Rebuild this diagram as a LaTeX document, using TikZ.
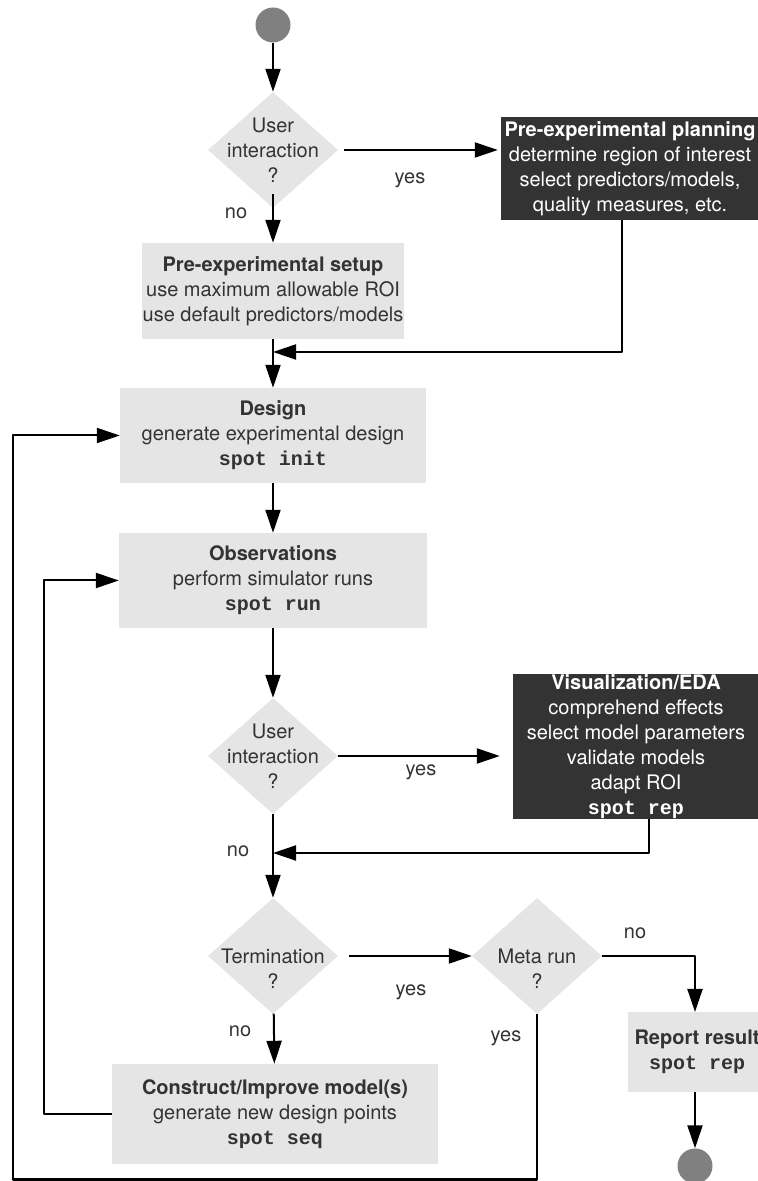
\documentclass[tikz,border=0pt]{standalone}
\usepackage{fontspec}
\setmainfont{TeX Gyre Heros}
\setmonofont{Liberation Mono}
\usetikzlibrary{arrows.meta}
\usetikzlibrary{shapes.geometric}
\definecolor{boxfill}{HTML}{E5E5E5}
\definecolor{darkfill}{HTML}{333333}
\definecolor{dotfill}{HTML}{808080}
\definecolor{inktext}{HTML}{333333}
\newcommand{\spotcmd}[1]{\textbf{\texttt{#1}}}

\begin{document}
\begin{tikzpicture}[>={Triangle[length=23bp,width=15bp]},line join=bevel,
  every node/.style={font=\fontsize{20bp}{25bp}\selectfont},
  lightbox/.style={rectangle,fill=boxfill,text=inktext,align=center,inner sep=0pt},
  darkbox/.style={rectangle,fill=darkfill,text=white,align=center,inner sep=0pt},
  query/.style={diamond,fill=boxfill,inner sep=0pt,minimum width=130bp,minimum height=116bp},
  qtext/.style={text=inktext,align=center},
  terminal/.style={circle,fill=dotfill,inner sep=0pt,minimum size=35bp},
  lbl/.style={text=inktext,inner sep=0pt},
  flow/.style={black,line width=2bp,->},
]
%%
\useasboundingbox (0bp,0bp) rectangle (758bp,1181bp);
\clip (0bp,0bp) rectangle (758bp,1181bp);
\node (node_start) at (273bp,1156bp) [terminal] {};
  \node (node_ui1) at (273bp,1031bp) [query,label={[qtext]center:User\\interaction\\?}] {};
  \node (node_plan) at (630bp,1012.5bp) [darkbox,minimum width=258bp,minimum height=103bp] {\textbf{Pre-experimental planning}\\determine region of interest\\select predictors/models,\\quality measures, etc.};
  \node (node_setup) at (273bp,890bp) [lightbox,minimum width=262bp,minimum height=96bp] {\textbf{Pre-experimental setup}\\use maximum allowable ROI\\use default predictors/models};
  \node (node_design) at (273bp,745.5bp) [lightbox,minimum width=306bp,minimum height=95bp] {\textbf{Design}\\generate experimental design\\\spotcmd{spot init}};
  \node (node_obs) at (273bp,600.5bp) [lightbox,minimum width=308bp,minimum height=95bp] {\textbf{Observations}\\perform simulator runs\\\spotcmd{spot run}};
  \node (node_ui2) at (273bp,425bp) [query,label={[qtext]center:User\\interaction\\?}] {};
  \node (node_viz) at (636bp,434.5bp) [darkbox,minimum width=246bp,minimum height=145bp] {\textbf{Visualization/EDA}\\comprehend effects\\select model parameters\\validate models\\adapt ROI\\\spotcmd{spot rep}};
  \node (node_term) at (273bp,225bp) [query,label={[qtext,yshift=-12.5bp]center:Termination\\?}] {};
  \node (node_meta) at (537bp,225bp) [query,label={[qtext,yshift=-12.5bp]center:Meta run\\?}] {};
  \node (node_report) at (697bp,129bp) [lightbox,minimum width=138bp,minimum height=80bp] {\textbf{Report result}\\\spotcmd{spot rep}};
  \node (node_construct) at (275bp,67bp) [lightbox,minimum width=326bp,minimum height=100bp] {\textbf{Construct/Improve model(s)}\\generate new design points\\\spotcmd{spot seq}};
  \node (node_end) at (695bp,15bp) [terminal] {};
  \node (node_yes1) at (410bp,1001bp) [lbl] {yes};
  \node (node_no1) at (236bp,968bp) [lbl] {no};
  \node (node_yes2) at (421bp,409bp) [lbl] {yes};
  \node (node_no2) at (238bp,330bp) [lbl] {no};
  \node (node_yes3) at (411bp,189bp) [lbl] {yes};
  \node (node_no3) at (240bp,150bp) [lbl] {no};
  \node (node_no4) at (635bp,248bp) [lbl] {no};
  \node (node_yes4) at (506bp,143bp) [lbl] {yes};
  \coordinate (join_plan) at (273bp,829bp);
  \coordinate (join_viz) at (273bp,328bp);
  \coordinate (loop_outer) at (13bp,1.5bp);
  \coordinate (loop_inner) at (44bp,67bp);
  \coordinate (turn_report) at (695bp,169bp);
  \draw [flow] (node_start) -- (node_ui1);
  \draw [flow,shorten >=3bp] ([xshift=6bp]node_ui1.east) -- (node_ui1.east -| node_plan.west);
  \draw [flow] ([yshift=14bp]node_ui1.south) -- (node_setup);
  \draw [flow] ([xshift=-8bp]node_plan.south) |- (join_plan);
  \draw [flow] (node_setup) -- (node_design);
  \draw [flow] (node_design) -- (node_obs);
  \draw [flow] (node_obs) -- (node_ui2);
  \draw [flow,shorten >=13bp] (node_ui2.east) -- (node_ui2.east -| node_viz.west);
  \draw [flow] ([xshift=13bp]node_viz.south) |- (join_viz);
  \draw [flow] (node_ui2) -- (node_term);
  \draw [flow,shorten <=11bp] (node_term.east) -- (node_meta.west);
  \draw [flow] (node_term) -- (node_construct);
  \draw [flow] (node_meta.east) -| (turn_report);
  \draw [flow] (node_report.south -| node_end) -- (node_end);
  \draw [flow] (node_meta.south) |- (loop_outer) |- (node_design.west);
  \draw [flow] (node_construct.west) -- (loop_inner) |- (node_obs.west);
%
\end{tikzpicture}
\end{document}
